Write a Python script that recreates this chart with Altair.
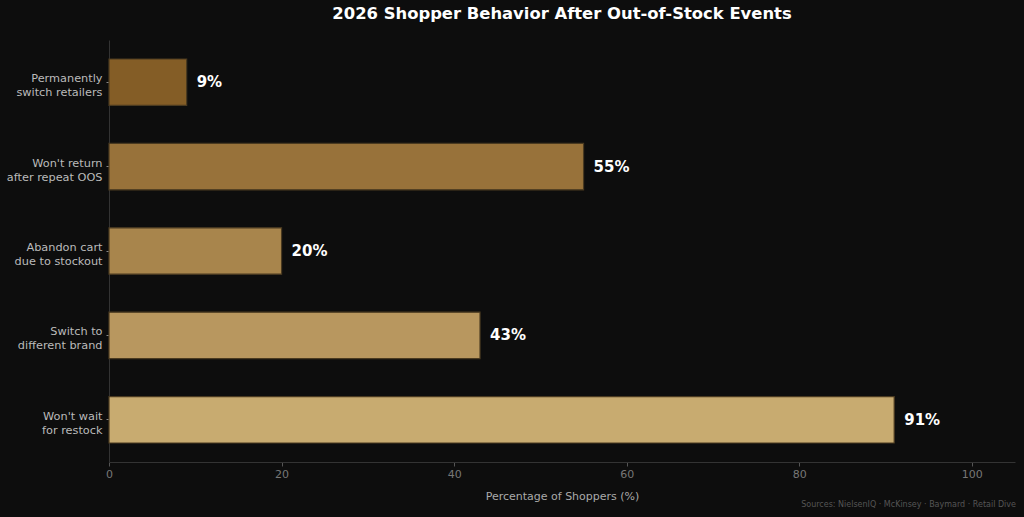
import altair as alt
import pandas as pd

categories = [
    "Permanently\nswitch retailers",
    "Won't return\nafter repeat OOS",
    "Abandon cart\ndue to stockout",
    "Switch to\ndifferent brand",
    "Won't wait\nfor restock",
]
values = [9, 55, 20, 43, 91]
colors = ["#845D26", "#98723A", "#A8854C", "#B8975F", "#C8AB70"]

df = pd.DataFrame({"cat": categories, "val": values, "color": colors})
df["label"] = df["val"].astype(str) + "%"

FONT = "DejaVu Sans"
W, H = 906, 422

y_enc = alt.Y(
    "cat:N",
    sort=categories,
    scale=alt.Scale(paddingInner=0.45, paddingOuter=0.225),
    axis=alt.Axis(
        title=None,
        labelExpr="split(datum.label, '\\n')",
        labelColor="#bbbbbb",
        labelFontSize=11.3,
        labelFont=FONT,
        labelPadding=4,
        labelOffset=-3,
        tickColor="#888888",
        tickSize=3,
        domainColor="#333333",
        labelLineHeight=14,
    ),
)

x_enc = alt.X(
    "val:Q",
    scale=alt.Scale(domain=[0, 105], nice=False),
    axis=alt.Axis(
        values=[0, 20, 40, 60, 80, 100],
        title="Percentage of Shoppers (%)",
        titleColor="#aaaaaa",
        titleFontSize=11,
        titleFontWeight="normal",
        titleFont=FONT,
        titlePadding=11,
        labelColor="#777777",
        labelFontSize=11,
        labelFont=FONT,
        labelFlush=False,
        tickColor="#555555",
        tickSize=4,
        domainColor="#333333",
        grid=False,
    ),
)

bars = alt.Chart(df).mark_bar(stroke="#4a3a20", strokeWidth=1.2).encode(
    x=x_enc,
    y=y_enc,
    color=alt.Color("color:N", scale=None),
)

text = alt.Chart(df).mark_text(
    align="left", dx=10, fontSize=15, fontWeight="bold", color="white", font=FONT
).encode(
    x="val:Q",
    y=alt.Y("cat:N", sort=categories),
    text="label:N",
)

source = alt.Chart(pd.DataFrame({"t": ["Sources: NielsenIQ · McKinsey · Baymard · Retail Dive"]})).mark_text(
    align="right", baseline="middle", fontSize=8, color="#555555", font=FONT
).encode(
    x=alt.value(907),
    y=alt.value(465),
    text="t:N",
)

chart = (
    alt.layer(bars, text, source)
    .properties(
        width=W,
        height=H,
        title=alt.TitleParams(
            "2026 Shopper Behavior After Out-of-Stock Events",
            fontSize=16.4,
            font=FONT,
            fontWeight="bold",
            color="white",
            anchor="middle",
            offset=18,
        ),
        background="#0d0d0d",
        padding={"left": 109, "top": 40, "right": 9, "bottom": 55},
        autosize=alt.AutoSizeParams(type="none"),
    )
    .configure_view(stroke=None)
)

chart.save("out.html", embed_options={"renderer": "svg", "actions": False})
